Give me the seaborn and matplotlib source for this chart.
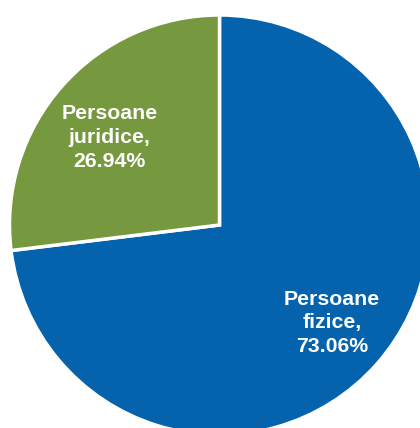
import matplotlib
matplotlib.use("Agg")
import matplotlib.pyplot as plt
import seaborn as sns
import numpy as np

categories = ["Persoane fizice", "Persoane juridice"]
label_lines = ["Persoane\nfizice,", "Persoane\njuridice,"]
values = [73.06, 26.94]
colors = ["#0563AD", "#76983F"]

sns.set_style("white")
plt.rcParams['font.family'] = ['Liberation Sans', 'DejaVu Sans']

fig = plt.figure(figsize=(4.2, 4.28), dpi=100)
R_px = 210
cx, cy = 219.5, 225
ax = fig.add_axes([(cx - R_px) / 420, (428 - cy - R_px) / 428, 2 * R_px / 420, 2 * R_px / 428])
wedges, _ = ax.pie(values, colors=colors, startangle=90, counterclock=False,
                   wedgeprops=dict(edgecolor="white", linewidth=2.5))
ax.set_xlim(-1, 1)
ax.set_ylim(-1, 1)
ax.set_aspect("auto")
ax.axis("off")

dist = [0.71, 0.67]
ang_off = [0.5, 3.0]
for w, lab, v, d, o in zip(wedges, label_lines, values, dist, ang_off):
    ang = np.deg2rad((w.theta1 + w.theta2) / 2 + o)
    ax.text(d * np.cos(ang), d * np.sin(ang), f"{lab}\n{v:.2f}%", ha="center", va="center",
            color="white", fontsize=15.3, fontweight="bold", linespacing=1.32)

fig.savefig("out.png", dpi=100)
